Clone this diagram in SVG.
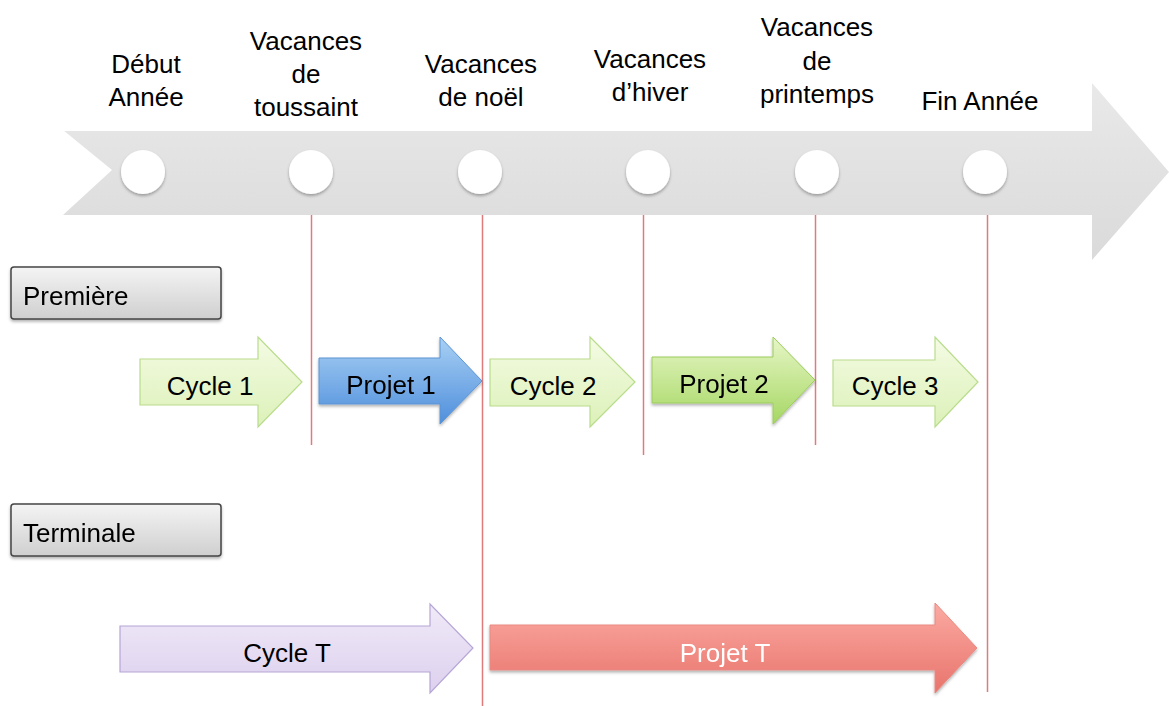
<svg xmlns="http://www.w3.org/2000/svg" width="1169" height="706" viewBox="0 0 1169 706">
<defs>
<linearGradient id="gBig" x1="0" y1="0" x2="0" y2="1"><stop offset="0" stop-color="#e9e9e9"/><stop offset="1" stop-color="#dadada"/></linearGradient>
<linearGradient id="gBox" x1="0" y1="0" x2="0" y2="1"><stop offset="0" stop-color="#f4f4f4"/><stop offset="1" stop-color="#cfcfcf"/></linearGradient>
<linearGradient id="gGreen" x1="0" y1="0" x2="0" y2="1"><stop offset="0" stop-color="#f4fbe4"/><stop offset="1" stop-color="#dcf1b8"/></linearGradient>
<linearGradient id="gGreen2" x1="0" y1="0" x2="0" y2="1"><stop offset="0" stop-color="#e6f6c6"/><stop offset="1" stop-color="#a6d763"/></linearGradient>
<linearGradient id="gBlue" x1="0" y1="0" x2="0" y2="1"><stop offset="0" stop-color="#a8d0f4"/><stop offset="1" stop-color="#4f8fdc"/></linearGradient>
<linearGradient id="gLav" x1="0" y1="0" x2="0" y2="1"><stop offset="0" stop-color="#f0eaf8"/><stop offset="1" stop-color="#ddd0ee"/></linearGradient>
<linearGradient id="gRed" x1="0" y1="0" x2="0" y2="1"><stop offset="0" stop-color="#fbaaa2"/><stop offset="1" stop-color="#e8746c"/></linearGradient>
<filter id="sh" x="-20%" y="-20%" width="140%" height="150%"><feDropShadow dx="0" dy="2" stdDeviation="1.5" flood-color="#000" flood-opacity="0.3"/></filter>
</defs>
<style>
text{font-family:"Liberation Sans",Arial,sans-serif;font-size:26px;fill:#000;}
.c{text-anchor:middle;}
.vl{stroke:#e07b7b;stroke-width:1.5;fill:none;}
.lbl{stroke:#444;stroke-width:1.5;fill:url(#gBox);}
.ga{fill:url(#gGreen);stroke:#b9dc8c;stroke-width:1.2;}
.gb{fill:url(#gGreen2);stroke:#9ccc5c;stroke-width:1;}
.ba{fill:url(#gBlue);stroke:#5d94d4;stroke-width:1;}
.la{fill:url(#gLav);stroke:#b6a6d6;stroke-width:1.2;}
.ra{fill:url(#gRed);stroke:#e88a82;stroke-width:1;}
.dot{fill:#fff;}
</style>

<g id="timeline">
<path d="M63,130 L1092,130 L1092,83 L1169,172 L1092,260 L1092,215 L63,215 L112,170 Z" fill="url(#gBig)"/>
<line x1="63" y1="130" x2="1092" y2="130" stroke="#fff" stroke-width="2"/>
<g filter="url(#sh)">
<circle class="dot" cx="143" cy="172" r="22"/>
<circle class="dot" cx="311" cy="172" r="22"/>
<circle class="dot" cx="480" cy="172" r="22"/>
<circle class="dot" cx="648" cy="172" r="22"/>
<circle class="dot" cx="817" cy="172" r="22"/>
<circle class="dot" cx="985" cy="172" r="22"/>
</g>
</g>

<g id="connectors">
<line class="vl" x1="311.5" y1="215" x2="311.5" y2="445"/>
<line class="vl" x1="482.5" y1="215" x2="482.5" y2="706"/>
<line class="vl" x1="643.5" y1="215" x2="643.5" y2="455"/>
<line class="vl" x1="815.5" y1="215" x2="815.5" y2="445"/>
<line class="vl" x1="987.5" y1="215" x2="987.5" y2="692"/>
</g>

<g id="labels-top">
<text class="c" x="146" y="73">Début</text>
<text class="c" x="146" y="106">Année</text>
<text class="c" x="306" y="50">Vacances</text>
<text class="c" x="306" y="83">de</text>
<text class="c" x="306" y="116">toussaint</text>
<text class="c" x="481" y="73">Vacances</text>
<text class="c" x="481" y="106">de noël</text>
<text class="c" x="650" y="68">Vacances</text>
<text class="c" x="650" y="101">d’hiver</text>
<text class="c" x="817" y="36">Vacances</text>
<text class="c" x="817" y="70">de</text>
<text class="c" x="817" y="103">printemps</text>
<text class="c" x="980" y="110">Fin Année</text>
</g>

<g id="premiere" filter="url(#sh)">
<rect class="lbl" x="11" y="267" width="210" height="52" rx="3"/>
<text x="23" y="305">Première</text>
</g>
<g id="terminale" filter="url(#sh)">
<rect class="lbl" x="11" y="504" width="210" height="52" rx="3"/>
<text x="23" y="542">Terminale</text>
</g>

<g id="cycle1">
<path class="ga" d="M140,359 L258,359 L258,337 L302,382 L258,427 L258,405 L140,405 Z"/>
<text class="c" x="210" y="395">Cycle 1</text>
</g>
<g id="projet1" filter="url(#sh)">
<path class="ba" d="M319,358 L440,358 L440,337 L482,381 L440,424 L440,404 L319,404 Z"/>
<text class="c" x="391" y="394">Projet 1</text>
</g>
<g id="cycle2">
<path class="ga" d="M490,359 L590,359 L590,337 L635,382 L590,427 L590,406 L490,406 Z"/>
<text class="c" x="553" y="395">Cycle 2</text>
</g>
<g id="projet2" filter="url(#sh)">
<path class="gb" d="M652,357 L773,357 L773,337 L815,380 L773,424 L773,403 L652,403 Z"/>
<text class="c" x="724" y="393">Projet 2</text>
</g>
<g id="cycle3">
<path class="ga" d="M833,360 L935,360 L935,337 L978,382 L935,427 L935,406 L833,406 Z"/>
<text class="c" x="895" y="395">Cycle 3</text>
</g>

<g id="cycleT">
<path class="la" d="M120,626 L430,626 L430,604 L473,648 L430,693 L430,672 L120,672 Z"/>
<text class="c" x="287" y="662">Cycle T</text>
</g>
<g id="projetT" filter="url(#sh)">
<path class="ra" d="M490,625 L935,625 L935,603 L977,648 L935,693 L935,670 L490,670 Z"/>
<text class="c" x="725" y="662" style="fill:#fff">Projet T</text>
</g>
</svg>
